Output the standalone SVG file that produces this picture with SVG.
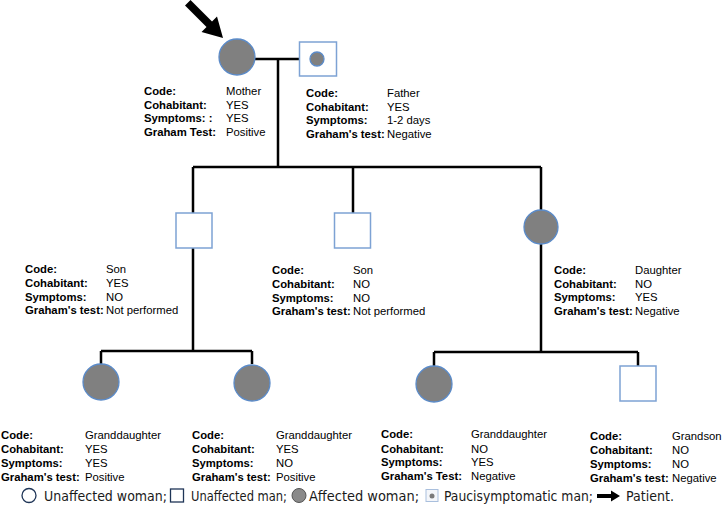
<svg xmlns="http://www.w3.org/2000/svg" width="722" height="507" viewBox="0 0 722 507">
<style>
.t{font-family:"Liberation Sans",Arial,sans-serif;font-size:11.3px;fill:#000}
.b{font-weight:bold}
.lg{font-family:"DejaVu Sans Condensed","DejaVu Sans",sans-serif;font-size:14px;fill:#1a1a1a}
.f{fill:#808080;stroke:#5b8bc9;stroke-width:1.3}
.m{fill:#fff;stroke:#7da2d4;stroke-width:1.5}
.ln{fill:none;stroke:#000;stroke-width:2.5}
</style>
<rect width="722" height="507" fill="#fff"/>
<g id="connectors">
<path class="ln" d="M255 59H299M278 59V167M193 167H541M193 167V213M353 167V213M541 167V210M193 248V351M101 351H252M101 351V364M252 351V364M541 244V352M434 352H638M434 352V366M638 352V366"/>
</g>
<g id="patient-arrow">
<polygon points="185,5.5 190.5,0 212,21.5 217,16.5 223,38 201.5,32 206.5,27" fill="#000"/>
</g>
<g id="mother">
<circle class="f" cx="237" cy="57" r="18"/>
<text class="t b" x="144" y="95">Code:</text><text class="t" x="226" y="95">Mother</text>
<text class="t b" x="144" y="108.5">Cohabitant:</text><text class="t" x="226" y="108.5">YES</text>
<text class="t b" x="144" y="122">Symptoms: :</text><text class="t" x="226" y="122">YES</text>
<text class="t b" x="144" y="135.5">Graham Test:</text><text class="t" x="226" y="135.5">Positive</text>
</g>
<g id="father">
<rect class="m" x="299.5" y="42" width="37" height="34"/>
<circle class="f" cx="317" cy="59" r="7" stroke-width="0.8"/>
<text class="t b" x="306" y="97">Code:</text><text class="t" x="387" y="97">Father</text>
<text class="t b" x="306" y="110.5">Cohabitant:</text><text class="t" x="387" y="110.5">YES</text>
<text class="t b" x="306" y="124">Symptoms:</text><text class="t" x="387" y="124">1-2 days</text>
<text class="t b" x="306" y="138">Graham's test:</text><text class="t" x="387" y="138">Negative</text>
</g>
<g id="son1">
<rect class="m" x="176" y="213" width="36" height="35"/>
<text class="t b" x="25" y="273">Code:</text><text class="t" x="106" y="273">Son</text>
<text class="t b" x="25" y="287">Cohabitant:</text><text class="t" x="106" y="287">YES</text>
<text class="t b" x="25" y="300.5">Symptoms:</text><text class="t" x="106" y="300.5">NO</text>
<text class="t b" x="25" y="314">Graham's test:</text><text class="t" x="106" y="314">Not performed</text>
</g>
<g id="son2">
<rect class="m" x="334.5" y="213" width="36" height="35"/>
<text class="t b" x="272" y="274">Code:</text><text class="t" x="353" y="274">Son</text>
<text class="t b" x="272" y="288">Cohabitant:</text><text class="t" x="353" y="288">NO</text>
<text class="t b" x="272" y="301.5">Symptoms:</text><text class="t" x="353" y="301.5">NO</text>
<text class="t b" x="272" y="315">Graham's test:</text><text class="t" x="353" y="315">Not performed</text>
</g>
<g id="daughter">
<circle class="f" cx="541" cy="227" r="17"/>
<text class="t b" x="554" y="274">Code:</text><text class="t" x="635" y="274">Daughter</text>
<text class="t b" x="554" y="287.5">Cohabitant:</text><text class="t" x="635" y="287.5">NO</text>
<text class="t b" x="554" y="301">Symptoms:</text><text class="t" x="635" y="301">YES</text>
<text class="t b" x="554" y="315">Graham's test:</text><text class="t" x="635" y="315">Negative</text>
</g>
<g id="granddaughter1">
<circle class="f" cx="101" cy="382" r="18"/>
<text class="t b" x="1" y="439">Code:</text><text class="t" x="85" y="439">Granddaughter</text>
<text class="t b" x="1" y="453">Cohabitant:</text><text class="t" x="85" y="453">YES</text>
<text class="t b" x="1" y="467">Symptoms:</text><text class="t" x="85" y="467">YES</text>
<text class="t b" x="1" y="480.5">Graham's test:</text><text class="t" x="85" y="480.5">Positive</text>
</g>
<g id="granddaughter2">
<circle class="f" cx="252" cy="383" r="18"/>
<text class="t b" x="192" y="439">Code:</text><text class="t" x="276" y="439">Granddaughter</text>
<text class="t b" x="192" y="453">Cohabitant:</text><text class="t" x="276" y="453">YES</text>
<text class="t b" x="192" y="467">Symptoms:</text><text class="t" x="276" y="467">NO</text>
<text class="t b" x="192" y="480.5">Graham's test:</text><text class="t" x="276" y="480.5">Positive</text>
</g>
<g id="granddaughter3">
<circle class="f" cx="434" cy="384" r="18"/>
<text class="t b" x="381" y="438">Code:</text><text class="t" x="471" y="438">Granddaughter</text>
<text class="t b" x="381" y="452.5">Cohabitant:</text><text class="t" x="471" y="452.5">NO</text>
<text class="t b" x="381" y="466">Symptoms:</text><text class="t" x="471" y="466">YES</text>
<text class="t b" x="381" y="480">Graham's Test:</text><text class="t" x="471" y="480">Negative</text>
</g>
<g id="grandson">
<rect class="m" x="620" y="366" width="36" height="35"/>
<text class="t b" x="590" y="440">Code:</text><text class="t" x="672" y="440">Grandson</text>
<text class="t b" x="590" y="454">Cohabitant:</text><text class="t" x="672" y="454">NO</text>
<text class="t b" x="590" y="468">Symptoms:</text><text class="t" x="672" y="468">NO</text>
<text class="t b" x="590" y="481.5">Graham's test:</text><text class="t" x="672" y="481.5">Negative</text>
</g>
<g id="legend">
<circle cx="29" cy="495.5" r="7" fill="#fff" stroke="#1f3557" stroke-width="1.3"/>
<text class="lg" x="44" y="500.5" textLength="123" lengthAdjust="spacingAndGlyphs">Unaffected woman;</text>
<rect x="170.5" y="489" width="13" height="13" fill="#fff" stroke="#1f3557" stroke-width="1.3"/>
<text class="lg" x="191" y="500.5" textLength="96" lengthAdjust="spacingAndGlyphs">Unaffected man;</text>
<circle cx="299" cy="495.5" r="7" fill="#8a8a8a" stroke="#555" stroke-width="1"/>
<text class="lg" x="309" y="500.5" textLength="110" lengthAdjust="spacingAndGlyphs">Affected woman;</text>
<rect x="426" y="489.5" width="12" height="12" fill="#f4f6fa" stroke="#a9bfdd" stroke-width="1"/>
<circle cx="432" cy="496" r="2.5" fill="#7a7a7a"/>
<text class="lg" x="444" y="500.5" textLength="149" lengthAdjust="spacingAndGlyphs">Paucisymptomatic man;</text>
<polygon points="597,494 611,494 611,490.5 620,496 611,501.5 611,498 597,498" fill="#000"/>
<text class="lg" x="626" y="500.5" textLength="48" lengthAdjust="spacingAndGlyphs">Patient.</text>
</g>
</svg>
